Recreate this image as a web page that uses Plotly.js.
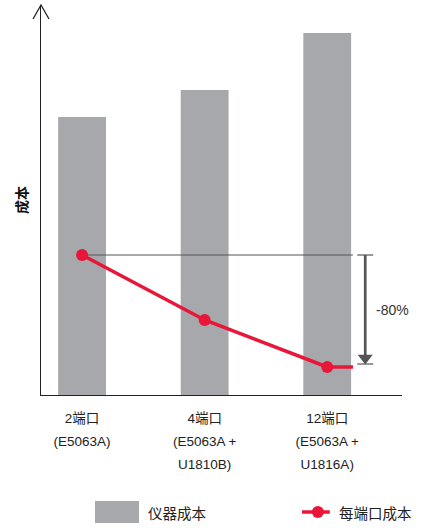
<!DOCTYPE html>
<html>
<head>
<meta charset="utf-8">
<script src="https://cdn.plot.ly/plotly-3.0.1.min.js"></script>
<style>
  html, body { margin: 0; padding: 0; background: #fff; }
  #myChart { width: 437px; height: 528px; }
</style>
</head>
<body>
<div id="myChart"></div>
<script>
// data (arbitrary cost units)
const categories = ["2端口", "4端口", "12端口"];
const models = ["(E5063A)", "(E5063A +<br>U1810B)", "(E5063A +<br>U1816A)"];
const instrumentCost = [278, 305, 362];
const perPortCost = [140, 75, 28];
const changeLabel = "-80%";
const barName = "仪器成本";
const lineName = "每端口成本";
const yTitle = "成本";

const grey = "#a7a8ab";
const red = "#e8173a";
const dark = "#555555";
const font = "'Noto Sans CJK SC', 'Noto Sans', sans-serif";
const latinFont = "'Liberation Sans', 'Noto Sans CJK SC', sans-serif";

let xValues = categories.map(function(c, i) { return i; });
let tickLabels = categories.map(function(c, i) {
  return c + "<br>" + models[i];
});
// big base size gives the wide line spacing, the spans keep the glyphs small
let tickLabelsSpan = tickLabels.map(function(t) {
  return t.split("<br>").map(function(s) {
    return '<span style="font-size:13.5px">' + s + "</span>";
  }).join("<br>");
});

let last = xValues.length - 1;
let lineEnd = last + 0.21;      // where the red line and the grey guide stop
let bracketX = last + 0.31;     // vertical arrow position
let bracketLow = 31;

const data = [
  {
    type: "bar",
    x: xValues,
    y: instrumentCost,
    width: 0.39,
    marker: { color: grey },
    name: barName,
    showlegend: false,
    hoverinfo: "y"
  },
  {
    // grey guide line from the 2-port value
    type: "scatter",
    mode: "lines",
    x: [xValues[0], lineEnd],
    y: [perPortCost[0], perPortCost[0]],
    line: { color: dark, width: 1 },
    showlegend: false,
    hoverinfo: "skip"
  },
  {
    type: "scatter",
    mode: "lines",
    x: [xValues[last], lineEnd],
    y: [perPortCost[last], perPortCost[last]],
    line: { color: red, width: 3.5 },
    showlegend: false,
    hoverinfo: "skip"
  },
  {
    type: "scatter",
    mode: "lines+markers",
    x: xValues,
    y: perPortCost,
    line: { color: red, width: 3.5 },
    marker: { color: red, size: 12 },
    name: lineName,
    showlegend: false
  },
  {
    // bracket: vertical stem
    type: "scatter",
    mode: "lines",
    x: [bracketX, bracketX],
    y: [perPortCost[0], bracketLow + 8],
    line: { color: dark, width: 2.7 },
    showlegend: false,
    hoverinfo: "skip"
  },
  {
    // bracket: arrow head
    type: "scatter",
    mode: "markers",
    x: [bracketX],
    y: [bracketLow + 6],
    marker: { symbol: "triangle-down", color: dark, size: 13 },
    showlegend: false,
    hoverinfo: "skip"
  },
  {
    // bracket: end caps
    type: "scatter",
    mode: "lines",
    x: [bracketX - 0.065, bracketX + 0.065, null, bracketX - 0.065, bracketX + 0.065],
    y: [perPortCost[0], perPortCost[0], null, bracketLow, bracketLow],
    line: { color: dark, width: 1.2 },
    showlegend: false,
    hoverinfo: "skip"
  }
];

// Define Layout
const layout = {
  width: 437,
  height: 528,
  margin: { l: 41, r: 35, t: 5, b: 133 },
  paper_bgcolor: "#fff",
  plot_bgcolor: "#fff",
  font: { family: font, color: "#222", size: 13 },
  showlegend: false,
  xaxis: {
    range: [-0.335, 2.61],
    tickvals: xValues,
    ticktext: tickLabelsSpan,
    tickfont: { size: 17.5, color: "#222", family: latinFont },
    ticks: "",
    ticklabelstandoff: 6,
    showgrid: false,
    zeroline: false,
    showline: true,
    linecolor: "#222",
    linewidth: 1.3,
    fixedrange: true
  },
  yaxis: {
    range: [0, 390],
    showticklabels: false,
    ticks: "",
    showgrid: false,
    zeroline: false,
    showline: true,
    linecolor: "#222",
    linewidth: 1.3,
    title: { text: "<b>" + yTitle + "</b>", font: { size: 14, color: "#111" }, standoff: 8 },
    fixedrange: true
  },
  shapes: [
    {
      // arrow tip on top of the y axis
      type: "path",
      xref: "paper", yref: "paper",
      xsizemode: "pixel", ysizemode: "pixel",
      xanchor: 0, yanchor: 1,
      path: "M-8,-14 L0,0 L8,-14",
      line: { color: "#222", width: 1.3 }
    },
    {
      // legend swatch for the bars
      type: "rect",
      xref: "paper", yref: "paper",
      x0: 0.1496, x1: 0.2715, y0: -0.328, y1: -0.272,
      fillcolor: grey,
      line: { width: 0 }
    },
    {
      // legend swatch for the line
      type: "line",
      xref: "paper", yref: "paper",
      x0: 0.723, x1: 0.8, y0: -0.3, y1: -0.3,
      line: { color: red, width: 3.5 }
    },
    {
      type: "circle",
      xref: "paper", yref: "paper",
      xsizemode: "pixel", ysizemode: "pixel",
      xanchor: 0.767, yanchor: -0.3,
      x0: -6, x1: 6, y0: -6, y1: 6,
      fillcolor: red,
      line: { width: 0 }
    }
  ],
  annotations: [
    {
      x: bracketX + 0.07, y: (perPortCost[0] + bracketLow) / 2,
      xref: "x", yref: "y",
      xanchor: "left", yanchor: "middle",
      text: changeLabel,
      showarrow: false,
      font: { size: 14, color: "#333", family: latinFont }
    },
    {
      x: 0.292, y: -0.3,
      xref: "paper", yref: "paper",
      xanchor: "left", yanchor: "middle",
      text: barName,
      showarrow: false,
      font: { size: 14.5, color: "#222" }
    },
    {
      x: 0.82, y: -0.3,
      xref: "paper", yref: "paper",
      xanchor: "left", yanchor: "middle",
      text: lineName,
      showarrow: false,
      font: { size: 14.5, color: "#222" }
    }
  ]
};

const config = { responsive: false, displayModeBar: false, staticPlot: true };

// Display using Plotly
Plotly.newPlot("myChart", data, layout, config);
</script>
</body>
</html>
